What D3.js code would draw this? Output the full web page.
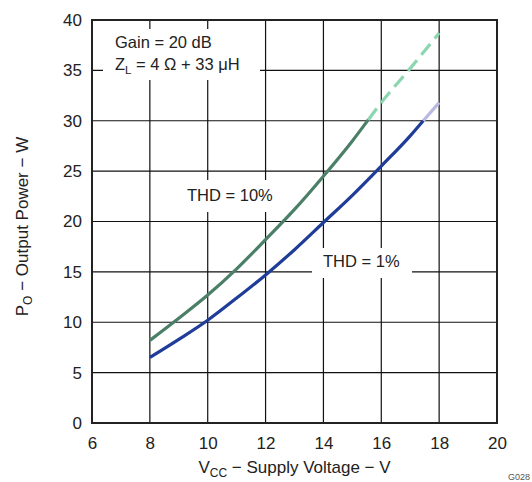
<!DOCTYPE html>
<html><head><meta charset="utf-8">
<script src="https://cdn.jsdelivr.net/npm/d3@7"></script>
<style>body{margin:0;background:#fff}svg{display:block}text{font-family:"Liberation Sans",Arial,sans-serif;fill:#222}</style>
</head><body><svg id="c" width="532" height="482"></svg>
<script>
const xTicks = [6, 8, 10, 12, 14, 16, 18, 20];
const yTicks = [0, 5, 10, 15, 20, 25, 30, 35, 40];
// THD = 10 %
const thd10V = [8, 9, 10, 11, 12, 13, 14, 15, 15.55];
const thd10P = [8.2, 10.4, 12.7, 15.3, 18.2, 21.2, 24.5, 28.0, 30.1];
const thd10ExtV = [15.55, 16, 17, 18];
const thd10ExtP = [30.1, 31.8, 35.2, 38.7];
// THD = 1 %
const thd1V = [8, 9, 10, 11, 12, 13, 14, 15, 16, 17, 17.45];
const thd1P = [6.5, 8.3, 10.2, 12.4, 14.7, 17.2, 19.9, 22.6, 25.5, 28.5, 30.0];
const thd1ExtV = [17.45, 18];
const thd1ExtP = [30.0, 31.8];

const svg = d3.select("#c");
const L = 92, R = 497, T = 20, B = 423;
const x = d3.scaleLinear().domain([6, 20]).range([L, R]);
const y = d3.scaleLinear().domain([0, 40]).range([B, T]);

// grid
const g = svg.append("g");
g.selectAll(".vx").data(xTicks).join("line")
  .attr("x1", d => x(d)).attr("x2", d => x(d)).attr("y1", T).attr("y2", B)
  .attr("stroke", "#111").attr("stroke-width", 1.2);
g.selectAll(".hy").data(yTicks).join("line")
  .attr("y1", d => y(d)).attr("y2", d => y(d)).attr("x1", L).attr("x2", R)
  .attr("stroke", "#111").attr("stroke-width", 1.2);

// white label backgrounds
const bg = [[103, 29, 157, 51], [180, 180, 98, 32], [312, 248, 100, 30]];
svg.selectAll(".bg").data(bg).join("rect")
  .attr("x", d => d[0]).attr("y", d => d[1]).attr("width", d => d[2]).attr("height", d => d[3])
  .attr("fill", "#fff");

// frame
svg.append("rect").attr("x", L).attr("y", T).attr("width", R - L).attr("height", B - T)
  .attr("fill", "none").attr("stroke", "#222").attr("stroke-width", 2);

// axis tick labels
const xa = d3.axisBottom(x).tickValues(xTicks).tickSize(0).tickPadding(14).tickFormat(d3.format("d"));
const xg = svg.append("g").attr("transform", `translate(0,${B})`).call(xa);
xg.select(".domain").remove();
xg.selectAll("text").attr("font-size", 17).style("font-family", "Liberation Sans, Arial, sans-serif").attr("fill", "#222");
const ya = d3.axisLeft(y).tickValues(yTicks).tickSize(0).tickPadding(10).tickFormat(d3.format("d"));
const yg = svg.append("g").attr("transform", `translate(${L},0)`).call(ya);
yg.select(".domain").remove();
yg.selectAll("text").attr("font-size", 17).style("font-family", "Liberation Sans, Arial, sans-serif").attr("fill", "#222");

// lines
const line = d3.line().x(d => x(d[0])).y(d => y(d[1])).curve(d3.curveMonotoneX);
const series = [
  {v: thd10V, p: thd10P, c: "#4b7f67", dash: null},
  {v: thd10ExtV, p: thd10ExtP, c: "#8ad6ae", dash: "14,7"},
  {v: thd1V, p: thd1P, c: "#1f3c98", dash: null},
  {v: thd1ExtV, p: thd1ExtP, c: "#b9b9e2", dash: null}
];
svg.selectAll(".ln").data(series).join("path")
  .attr("d", s => line(s.v.map((v, i) => [v, s.p[i]])))
  .attr("fill", "none").attr("stroke", s => s.c).attr("stroke-width", 3.2)
  .attr("stroke-dasharray", s => s.dash);

// annotations
svg.append("text").attr("x", 115).attr("y", 48).attr("font-size", 16.5).text("Gain = 20 dB");
const z = svg.append("text").attr("x", 115).attr("y", 70).attr("font-size", 16.5);
z.append("tspan").text("Z");
z.append("tspan").attr("font-size", 11.5).attr("dy", 4).text("L");
z.append("tspan").attr("dy", -4).text(" = 4 Ω + 33 μH");
svg.append("text").attr("x", 187).attr("y", 201).attr("font-size", 16.5).text("THD = 10%");
svg.append("text").attr("x", 323).attr("y", 267).attr("font-size", 16.5).text("THD = 1%");

// axis titles
const xt = svg.append("text").attr("x", (L + R) / 2).attr("y", 473).attr("text-anchor", "middle").attr("font-size", 17);
xt.append("tspan").text("V");
xt.append("tspan").attr("font-size", 12).attr("dy", 4).text("CC");
xt.append("tspan").attr("dy", -4).text(" − Supply Voltage − V");
const yt = svg.append("text").attr("transform", `translate(28,${(T + B) / 2 + 5}) rotate(-90)`).attr("text-anchor", "middle").attr("font-size", 17);
yt.append("tspan").text("P");
yt.append("tspan").attr("font-size", 12).attr("dy", 4).text("O");
yt.append("tspan").attr("dy", -4).text(" − Output Power − W");

svg.append("text").attr("x", 530).attr("y", 480).attr("text-anchor", "end").attr("font-size", 9).style("fill", "#555").text("G028");
</script></body></html>
